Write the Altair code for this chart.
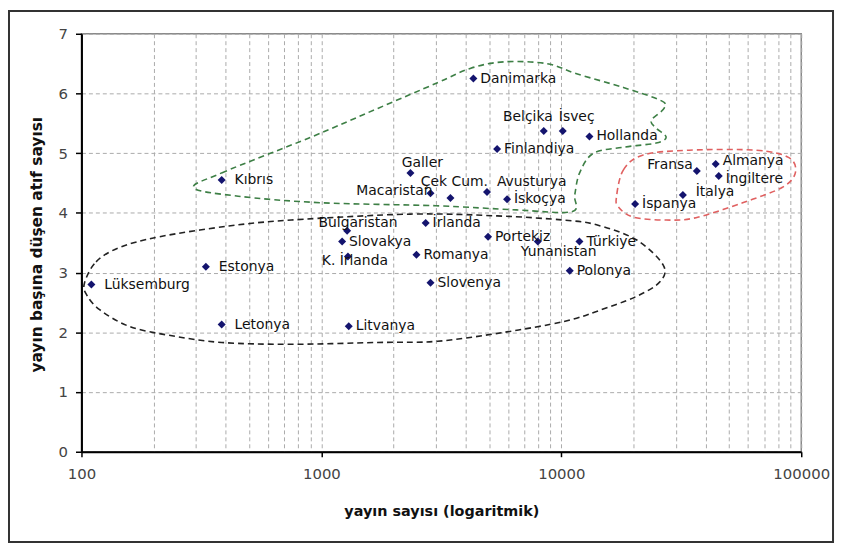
import altair as alt
import pandas as pd

# ---- data ----
countries = ["Lüksemburg", "Estonya", "Letonya", "Kıbrıs", "Litvanya", "Bulgaristan",
             "Slovakya", "K. İrlanda", "Romanya", "Slovenya", "İrlanda", "Galler",
             "Macaristan", "Çek Cum.", "Avusturya", "İskoçya", "Finlandiya", "Danimarka",
             "Belçika", "İsveç", "Hollanda", "Portekiz", "Yunanistan", "Türkiye",
             "Polonya", "İspanya", "İtalya", "Fransa", "Almanya", "İngiltere"]
pubs = [110, 330, 384, 384, 1300, 1280, 1220, 1290, 2490, 2850, 2720, 2350,
        2850, 3450, 4900, 5940, 5400, 4300, 8450, 10140, 13100, 4950, 7980, 11900,
        10840, 20300, 32100, 36700, 44000, 45300]
cites = [2.8, 3.1, 2.13, 4.55, 2.1, 3.7, 3.52, 3.27, 3.3, 2.83, 3.83, 4.67,
         4.33, 4.25, 4.35, 4.23, 5.07, 6.25, 5.37, 5.37, 5.28, 3.6, 3.52, 3.52,
         3.03, 4.15, 4.3, 4.7, 4.82, 4.62]

# group outlines (data space)
green_x = [294, 384, 906, 1718, 3047, 4172, 5770, 8696, 11580, 18150, 26060, 26800,
           23700, 24850, 27350, 24850, 18150, 13620, 11920, 11370, 11040, 6500, 3000, 1000, 450]
green_y = [4.42, 4.67, 5.27, 5.75, 6.18, 6.42, 6.53, 6.5, 6.33, 6.1, 5.88, 5.75,
           5.55, 5.42, 5.27, 5.17, 5.1, 5.0, 4.67, 4.3, 4.02, 4.05, 4.12, 4.17, 4.28]

black_x = [103, 115, 144, 211, 411, 749, 2354, 5400, 10230, 14020, 20520, 26560,
           25820, 20520, 14020, 10230, 5770, 3047, 1718, 749, 384, 232, 158, 119, 105]
black_y = [2.83, 3.18, 3.42, 3.6, 3.78, 3.88, 3.98, 3.95, 3.88, 3.8, 3.55, 3.13,
           2.85, 2.6, 2.35, 2.18, 2.0, 1.85, 1.83, 1.8, 1.83, 1.95, 2.1, 2.38, 2.63]

red_x = [16980, 18150, 21950, 34060, 64560, 88470, 94580, 83500, 57000, 36400, 27350, 19950, 17300]
red_y = [4.27, 4.72, 4.97, 5.05, 5.05, 4.93, 4.68, 4.43, 4.17, 3.92, 3.88, 3.93, 4.1]

x_grid = [100, 200, 300, 400, 500, 600, 700, 800, 900,
          1000, 2000, 3000, 4000, 5000, 6000, 7000, 8000, 9000,
          10000, 20000, 30000, 40000, 50000, 60000, 70000, 80000, 90000, 100000]
y_ticks = [0, 1, 2, 3, 4, 5, 6, 7]

x_title = "yayın sayısı (logaritmik)"
y_title = "yayın başına düşen atıf sayısı"

df = pd.DataFrame({"name": countries, "pubs": pubs, "cites": cites})

def curve_df(xs, ys):
    return pd.DataFrame({"pubs": xs, "cites": ys, "i": list(range(len(xs)))})

major_test = "indexof([100, 1000, 10000, 100000], datum.value) >= 0"

x_axis = alt.Axis(
    values=x_grid, format="d",
    labelExpr=f"{major_test} ? datum.label : ''",
    grid=True, gridDash=[4, 3], gridColor="#aaaaaa", gridWidth=1,
    domainColor="#000000", domainWidth=2,
    tickColor="#000000", tickSize=5, tickWidth=1.5,
    tickOpacity={"condition": {"test": major_test, "value": 1}, "value": 0},
    labelFont="DejaVu Sans", labelFontSize=15, labelColor="#444444", labelPadding=10,
    labelFlush=False,
    title=x_title, titleFont="DejaVu Sans", titleFontWeight="bold", titleFontSize=14.5,
    titleColor="#111111", titleY=60, titleBaseline="middle",
)
y_axis = alt.Axis(
    values=y_ticks, format="d",
    grid=True, gridDash=[4, 3], gridColor="#aaaaaa", gridWidth=1,
    domainColor="#000000", domainWidth=2,
    tickColor="#000000", tickSize=6, tickWidth=1.5,
    labelFont="DejaVu Sans", labelFontSize=15, labelColor="#444444", labelPadding=8,
    title=y_title, titleFont="DejaVu Sans", titleFontWeight="bold", titleFontSize=15.5,
    titleColor="#111111", titleAngle=270, titleX=-45, titleY=212,
    titleAlign="center", titleBaseline="middle",
)

X = alt.X("pubs:Q", scale=alt.Scale(type="log", domain=[100, 100000], nice=False), axis=x_axis)
Y = alt.Y("cites:Q", scale=alt.Scale(domain=[0, 7], nice=False), axis=y_axis)

def outline(xs, ys, color):
    return alt.Chart(curve_df(xs, ys)).mark_line(
        interpolate="cardinal-closed", strokeDash=[6, 4], strokeWidth=1.6, color=color
    ).encode(x=X, y=Y, order="i:Q")

points = alt.Chart(df).mark_point(
    shape="diamond", filled=True, size=65, color="#14146e", opacity=1
).encode(x=X, y=Y)

# label placements
right_far = ["Lüksemburg", "Estonya", "Letonya", "Kıbrıs"]
special = {
    "Galler": ("center", 12, -10),
    "Macaristan": ("right", 2, -2),
    "Çek Cum.": ("center", 4, -16),
    "Avusturya": ("left", 10, -10),
    "Belçika": ("center", -16, -14),
    "İsveç": ("center", 14, -14),
    "Bulgaristan": ("center", 11, -8),
    "K. İrlanda": ("center", 7, 5),
    "Yunanistan": ("center", 21, 11),
    "Fransa": ("right", -4, -6),
    "İtalya": ("left", 13, -3),
    "Almanya": ("left", 7, -3),
    "İngiltere": ("left", 7, 3),
}
right_near = [c for c in countries if c not in right_far and c not in special]

def labels(names, align, dx, dy):
    return alt.Chart(df).transform_filter(
        alt.FieldOneOfPredicate(field="name", oneOf=names)
    ).mark_text(
        align=align, baseline="middle", dx=dx, dy=dy,
        font="DejaVu Sans", fontSize=14, color="#111111"
    ).encode(x=X, y=Y, text="name:N")

text_layers = [labels(right_far, "left", 13, 0), labels(right_near, "left", 7, 0)]
for nm, (al, dx, dy) in special.items():
    text_layers.append(labels([nm], al, dx, dy))

frame = alt.Chart(pd.DataFrame({"a": [0]})).mark_rect(
    filled=False, stroke="#333333", strokeWidth=2
).encode(x=alt.value(-73), x2=alt.value(757), y=alt.value(-23), y2=alt.value(512))

chart = alt.layer(
    outline(green_x, green_y, "#3d7f45"),
    outline(black_x, black_y, "#222222"),
    outline(red_x, red_y, "#e06060"),
    points,
    *text_layers,
    frame,
).properties(
    width=725, height=421,
    padding={"left": 74, "top": 24, "right": 35, "bottom": 95},
    autosize=alt.AutoSizeParams(type="none"),
).configure_view(
    stroke="#888888", strokeWidth=1.5
)

chart.save("out.html", embed_options={"renderer": "svg", "actions": False})
